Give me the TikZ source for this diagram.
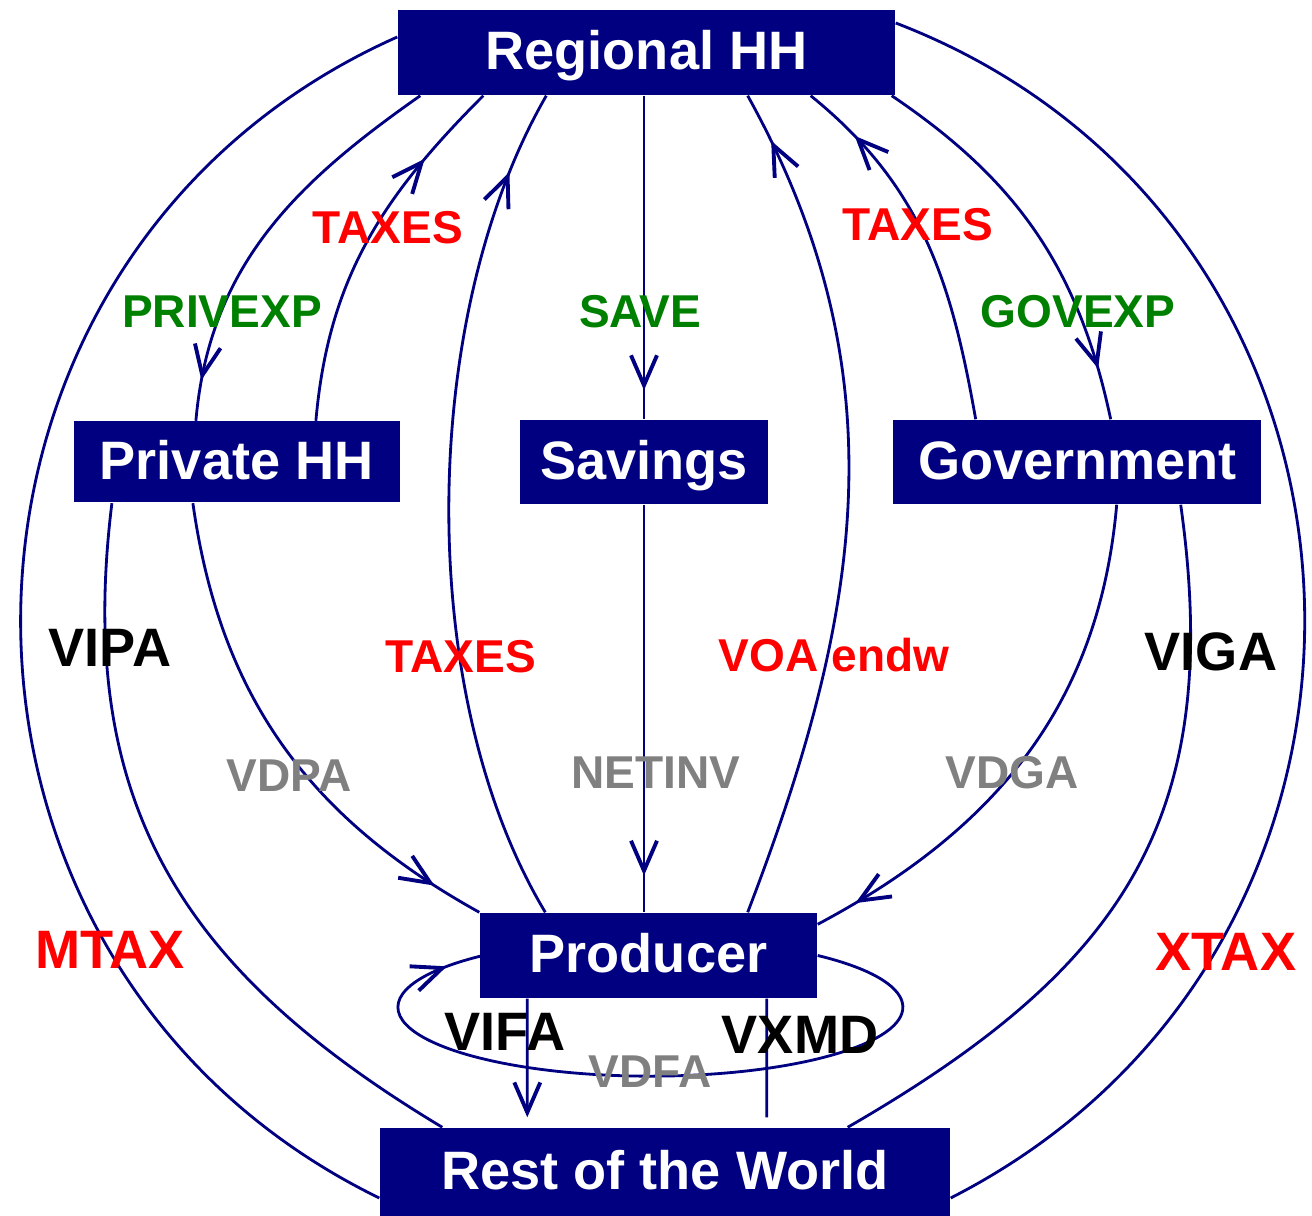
\documentclass[tikz,border=0pt]{standalone}
\usepackage{fontspec}
\setmainfont{Liberation Sans}
\usepackage{tikz}
\usetikzlibrary{arrows.meta}
\usetikzlibrary{decorations.markings}
\usetikzlibrary{positioning}
\usepackage{color}
\definecolor{Navy}{RGB}{0,0,128}
\definecolor{Tax}{RGB}{255,0,0}
\definecolor{Exp}{RGB}{0,128,0}
\definecolor{Dom}{RGB}{128,128,128}

\begin{document}
\begin{tikzpicture}
    \tikzset{ box/.style ={fill=Navy, text=white, inner sep=0pt, text height=0.39cm, text depth=0.04cm, font=\fontsize{15.4}{18}\selectfont\bfseries} }
    \tikzset{ big/.style ={font=\fontsize{15.4}{18}\selectfont\bfseries} }
    \tikzset{ sml/.style ={font=\fontsize{13.1}{16}\selectfont\bfseries} }
    \tikzset{ flw/.style ={draw=Navy, line width=0.8pt} }
    \tikzset{ arw/.style ={postaction={decorate}, decoration={markings, mark=at position #1 with {\arrow{Straight Barb[length=3mm, width=2.6mm, line width=1.1pt]}}}} }

    \useasboundingbox (0,0) rectangle (13.12,-12.16);

    \node[box,                     minimum width=4.97cm, minimum height=0.85cm] (hh)  at (6.465,-0.525) {Regional HH};
    \node[box,                     minimum width=2.48cm, minimum height=0.84cm] (sav) at (6.44,-4.62)   {Savings};
    \node[box, left =1.19cm of sav, minimum width=3.26cm, minimum height=0.81cm] (phh)                  {Private HH};
    \node[box, right=1.24cm of sav, minimum width=3.68cm, minimum height=0.84cm] (gov)                  {Government};
    \node[box,                     minimum width=3.37cm, minimum height=0.85cm] (prd) at (6.485,-9.555) {Producer};
    \node[box,                     minimum width=5.70cm, minimum height=0.88cm] (row) at (6.65,-11.72)  {Rest of the World};

    % regional household <-> private household, savings, government
    \draw[flw, arw=0.90] ([xshift=0.23cm]hh.south west)  to[out=215, in=85]                  ([xshift=1.23cm]phh.north west);
    \draw[flw, arw=0.77] ([xshift=2.43cm]phh.north west) to[out=85,  in=225]                 ([xshift=0.86cm]hh.south west);
    \draw[flw, arw=0.90] ([xshift=0.66cm]prd.north west) to[out=121, in=240, looseness=0.8]  ([xshift=1.49cm]hh.south west);
    \draw[flw, arw=0.91] (sav.north |- hh.south)         --                                  (sav.north);
    \draw[flw, arw=0.94] ([xshift=-0.70cm]prd.north east) to[out=69, in=-61]                 ([xshift=-1.48cm]hh.south east);
    \draw[flw, arw=0.84] ([xshift=0.83cm]gov.north west) to[out=100, in=-39]                 ([xshift=-0.85cm]hh.south east);
    \draw[flw, arw=0.87] ([xshift=-0.04cm]hh.south east) to[out=-34, in=102]                 ([xshift=2.18cm]gov.north west);

    % domestic purchases and investment
    \draw[flw, arw=0.90] ([xshift=1.20cm]phh.south west) to[out=-82, in=151]                 (prd.north west);
    \draw[flw, arw=0.91] (sav.south)                     --                                  (sav.south |- prd.north);
    \draw[flw, arw=0.92] ([xshift=2.24cm]gov.south west) to[out=-95, in=28]                  ([yshift=-0.12cm]prd.north east);
    \draw[flw, arw=0.95] (prd.east) arc[start angle=48.5, end angle=-228.5, x radius=2.525cm, y radius=0.69cm];

    % trade with the rest of the world
    \draw[flw] ([xshift=0.39cm]phh.south west)           to[out=-97, in=149, looseness=1.1]  ([xshift=0.63cm]row.north west);
    \draw[flw] ([xshift=2.88cm]gov.south west)           to[out=-82, in=30,  looseness=1.15] ([xshift=-1.03cm]row.north east);
    \draw[flw] ([yshift=0.155cm]hh.west)                 to[out=204, in=154, looseness=1.19] ([yshift=-0.26cm]row.west);
    \draw[flw] ([yshift=0.295cm]hh.east)                 to[out=-21, in=27,  looseness=1.21] ([yshift=-0.26cm]row.east);
    \draw[flw, -{Straight Barb[length=3mm, width=2.6mm, line width=1.1pt]}, shorten >=0.1cm] ([xshift=0.48cm]prd.south west) -- ([xshift=1.48cm]row.north west);
    \draw[flw, shorten <=0.1cm] ([xshift=-1.84cm]row.north east) -- ([xshift=-0.51cm]prd.south east);

    \node[sml, text=Tax] (tax1) at (3.88,-2.28)  {TAXES};
    \node[sml, text=Exp] (pexp) at (2.22,-3.12)  {PRIVEXP};
    \node[sml, text=Exp] (save) at (6.40,-3.12)  {SAVE};
    \node[sml, text=Tax] (tax2) at (9.18,-2.25)  {TAXES};
    \node[sml, text=Exp] (gexp) at (10.78,-3.12) {GOVEXP};
    \node[sml, text=Tax] (tax3) at (4.61,-6.57)  {TAXES};
    \node[sml, text=Tax] (voa)  at (8.34,-6.55)  {VOA endw};
    \node[big          ] (vipa) at (1.10,-6.48)  {VIPA};
    \node[big          ] (viga) at (12.11,-6.52) {VIGA};
    \node[sml, text=Dom] (vdpa) at (2.89,-7.76)  {VDPA};
    \node[sml, text=Dom] (ninv) at (6.56,-7.73)  {NETINV};
    \node[sml, text=Dom] (vdga) at (10.12,-7.73) {VDGA};
    \node[big, text=Tax] (mtax) at (1.10,-9.50)  {MTAX};
    \node[big, text=Tax] (xtax) at (12.26,-9.52) {XTAX};
    \node[big          ] (vifa) at (5.05,-10.32) {VIFA};
    \node[big          ] (vxmd) at (8.00,-10.35) {VXMD};
    \node[sml, text=Dom] (vdfa) at (6.50,-10.72) {VDFA};
\end{tikzpicture}
\end{document}
